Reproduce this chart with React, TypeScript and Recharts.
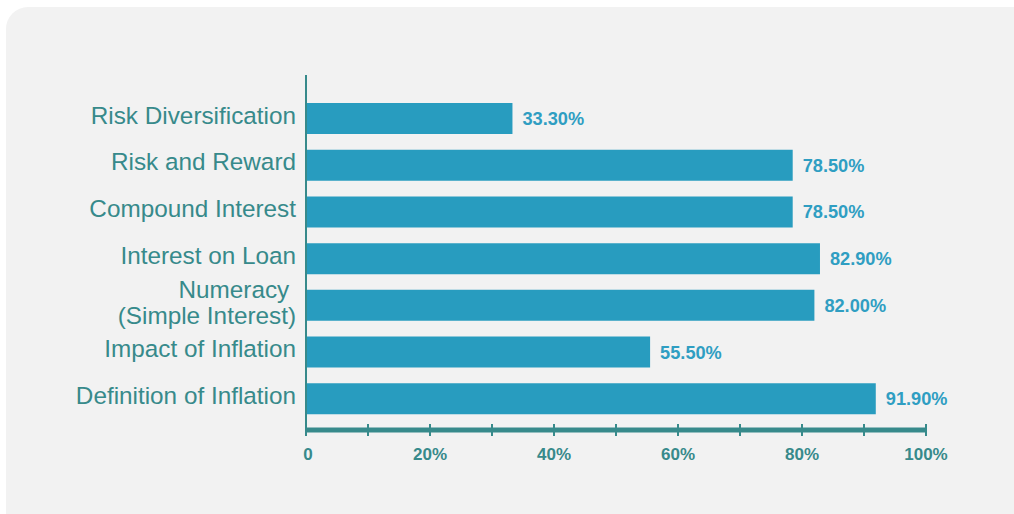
import { BarChart, Bar, XAxis, YAxis, LabelList } from "recharts";

const topics = [
  "Risk Diversification",
  "Risk and Reward",
  "Compound Interest",
  "Interest on Loan",
  "Numeracy |(Simple Interest)",
  "Impact of Inflation",
  "Definition of Inflation",
];
const correct = [33.3, 78.5, 78.5, 82.9, 82.0, 55.5, 91.9];
const xTicks = [0, 10, 20, 30, 40, 50, 60, 70, 80, 90, 100];

const data = topics.map((topic, i) => ({ topic, value: correct[i] }));

const TEAL = "#378a8b";
const BAR = "#289cbf";
const FONT = "Liberation Sans, Arial, sans-serif";

const TopicTick = (props: any) => {
  const { x, y, payload } = props;
  const lines = String(payload.value).split("|");
  const start = -((lines.length - 1) * 26) / 2;
  return (
    <text x={x} y={y} textAnchor="end" fill={TEAL} fontSize={24.3} fontFamily={FONT}>
      {lines.map((l, i) => (
        <tspan key={i} x={x} y={y + start + i * 26} dy="0.22em">
          {l}
        </tspan>
      ))}
    </text>
  );
};

const PercentTick = (props: any) => {
  const { x, y, payload } = props;
  const v = payload.value;
  return (
    <g>
      <line x1={x} x2={x} y1={y - 8} y2={y + 4} stroke={TEAL} strokeWidth={2} />
      {v % 20 === 0 && (
        <text
          x={v === 0 ? x + 2 : x}
          y={y + 28}
          textAnchor="middle"
          fill={TEAL}
          fontSize={17}
          fontWeight="bold"
          fontFamily={FONT}
        >
          {v === 0 ? "0" : v + "%"}
        </text>
      )}
    </g>
  );
};

export default function App() {
  return (
    <div
      style={{
        position: "absolute",
        left: 0,
        top: 0,
        width: 1014,
        height: 514,
        background: "#ffffff",
        overflow: "hidden",
      }}
    >
      <div
        style={{
          position: "absolute",
          left: 6,
          top: 7,
          width: 1030,
          height: 530,
          borderRadius: 22,
          background: "#f2f2f2",
        }}
      />
      <div style={{ position: "absolute", left: 0, top: 0 }}>
        <BarChart
          width={1014}
          height={514}
          data={data}
          layout="vertical"
          margin={{ top: 75, right: 88, bottom: 54, left: 0 }}
          barSize={31}
        >
          <XAxis
            type="number"
            domain={[0, 100]}
            ticks={xTicks}
            interval={0}
            height={30}
            axisLine={{ stroke: TEAL, strokeWidth: 5 }}
            tickLine={false}
            tickSize={0}
            tick={<PercentTick />}
          />
          <YAxis
            type="category"
            dataKey="topic"
            width={306}
            padding={{ top: 20, bottom: 8 }}
            axisLine={{ stroke: TEAL, strokeWidth: 2 }}
            tickLine={false}
            tickSize={0}
            tickMargin={10}
            interval={0}
            tick={<TopicTick />}
          />
          <Bar dataKey="value" fill={BAR} isAnimationActive={false}>
            <LabelList
              dataKey="value"
              position="right"
              offset={10}
              formatter={(v: any) => Number(v).toFixed(2) + "%"}
              fill="#2f9ec2"
              fontSize={18.2}
              fontWeight="bold"
              fontFamily={FONT}
            />
          </Bar>
        </BarChart>
      </div>
    </div>
  );
}
